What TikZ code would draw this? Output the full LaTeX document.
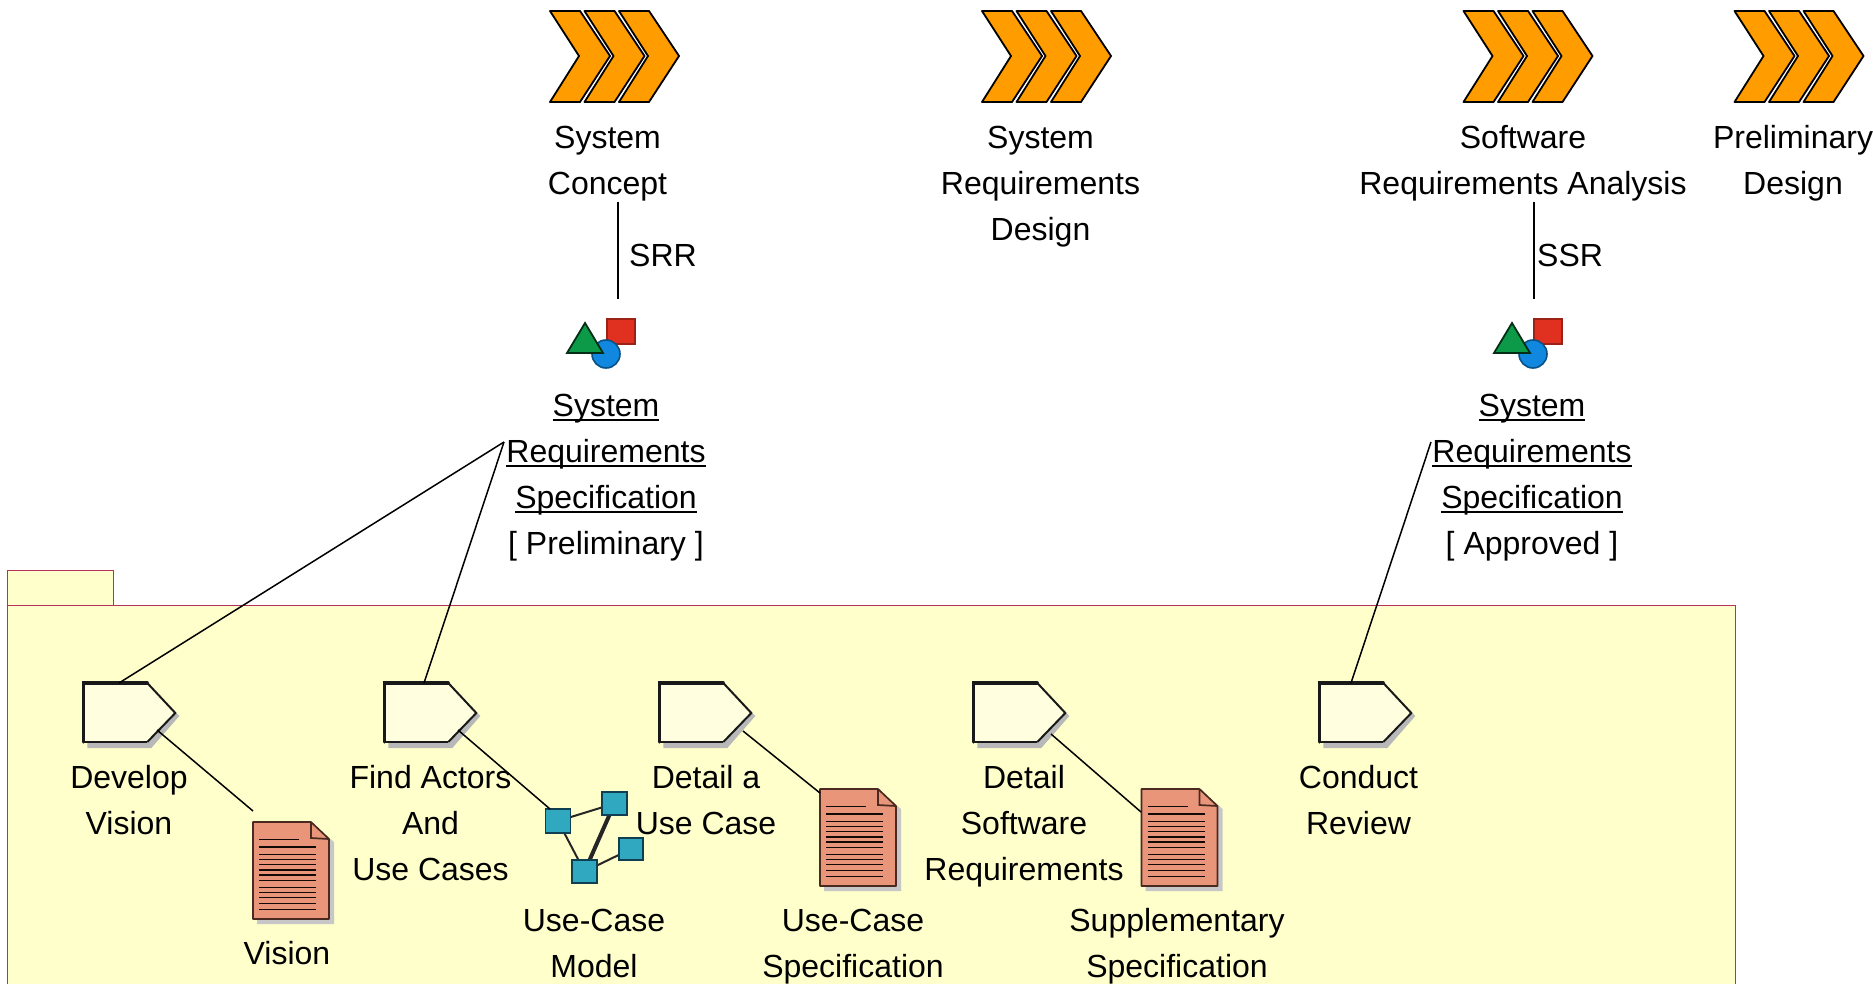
\documentclass[tikz,border=0pt]{standalone}
\usepackage{fontspec}
\setmainfont{Liberation Sans}
\definecolor{pkgfill}{HTML}{FFFFCC}
\definecolor{pkgline}{HTML}{B8305C}
\definecolor{chev}{HTML}{FF9C00}
\definecolor{docfill}{HTML}{E8957A}
\definecolor{docline}{HTML}{4A2A20}
\definecolor{ucfill}{HTML}{30A8C0}
\definecolor{ucline}{HTML}{0F3F50}
\definecolor{tri}{HTML}{0C9A48}
\definecolor{sq}{HTML}{E03020}
\definecolor{circ}{HTML}{1088E0}
\newcommand{\sn}{\rule{0pt}{24pt}}
\newsavebox{\ulbox}
\newcommand{\ul}[1]{\sbox{\ulbox}{#1}\rlap{\rule[-5pt]{\wd\ulbox}{2.2pt}}\usebox{\ulbox}}
\tikzset{
  lbl/.style={anchor=north,inner sep=0pt,align=center,font=\fontsize{32}{46}\selectfont,text=black},
  conn/.style={draw=black,line width=1.5pt},
  chevshape/.style={fill=chev,draw=black,line width=1.8pt,line join=round},
  pkg/.style={fill=pkgfill,draw=pkgline,line width=1pt},
  actshadow/.style={fill=black!28,draw=none},
  actbody/.style={fill=pkgfill!60!white,draw=none},
  docshadow/.style={fill=black!22,draw=none},
  docbody/.style={fill=docfill,draw=docline,line width=1.7pt},
  uc/.style={fill=ucfill,draw=ucline,line width=1.8pt},
  ucl/.style={draw=black!85,line width=2pt},
}
\newcommand{\chevs}[1]{\begin{scope}[shift={(#1,0)}]
  \foreach \o in {0,34.5,69}{
    \draw[chevshape] (\o,11) -- (\o+30,11) -- (\o+60,56) -- (\o+30,102) -- (\o,102) -- (\o+29,56) -- cycle;}
\end{scope}}
\newcommand{\artifact}[1]{\begin{scope}[shift={(#1,0)}]
  \draw[sq!70!black,fill=sq,line width=2pt] (607,319) rectangle (635,344);
  \draw[circ!60!black,fill=circ,line width=1.6pt] (606,354) circle (14);
  \draw[black!70!tri,fill=tri,line width=1.8pt,line join=miter] (585,323) -- (603,353) -- (567,353) -- cycle;
\end{scope}}
\newcommand{\activity}[1]{\begin{scope}[shift={(#1,0)}]
  \fill[actshadow] (4,687) -- (68,687) -- (96,716) -- (68,748) -- (4,748) -- cycle;
  \fill[actbody] (0,683) -- (64,683) -- (92,713) -- (64,742) -- (0,742) -- cycle;
  \draw[black!90,line width=2pt] (64,742) -- (92,713) -- (64,683);
  \draw[black!90,line width=2pt] (64,742) -- (0,742);
  \draw[black!90,line width=3.2pt,line cap=round] (0,742) -- (0,683) -- (64,683);
\end{scope}}
\newcommand{\docicon}[2]{\begin{scope}[shift={(#1,#2)}]
  \fill[docshadow] (4,4) -- (62,4) -- (81,20) -- (81,102) -- (4,102) -- cycle;
  \draw[docbody,line join=round] (0,0) -- (58,0) -- (76,17) -- (76,97) -- (0,97) -- cycle;
  \draw[docline,line width=1.7pt] (58,0) -- (58,16) -- (76,17);
  \draw[black!80!docline,line width=1pt] (6,17) -- (46,17);
  \foreach \yy in {32,37,42,58,65,70,75,81,87}{\draw[black!75!docline,line width=1pt] (6,\yy) -- (63,\yy);}
  \foreach \yy in {25,48,53}{\draw[black!75!docline,line width=1.8pt] (6,\yy) -- (63,\yy);}
\end{scope}}
\begin{document}
\begin{tikzpicture}[x=1pt,y=-1pt]
\useasboundingbox (0,0) rectangle (1873,983);
\clip (0,0) rectangle (1873,983);
% package
\draw[pkg] (7,605) rectangle (113,570);
\draw[pkg] (7,605) rectangle (1735,1000);
% chevrons
\chevs{550}\chevs{982}\chevs{1463.5}\chevs{1734.5}
% artifacts
\artifact{0}\artifact{927}
% activities
\activity{83.3}\activity{384.3}\activity{659.3}\activity{973.3}\activity{1319.3}
% documents
\docicon{253}{822}\docicon{820}{789}\docicon{1141.5}{789}
% labels
\node[lbl] (n1) at (607.5,124) {\sn System\\Concept};
\node[lbl] (n2) at (1040.5,124) {\sn System\\Requirements\\Design};
\node[lbl] (n3) at (1523,124) {\sn Software\\Requirements Analysis};
\node[lbl] (n4) at (1793,124) {\sn Preliminary\\Design};
\node[lbl] (srs1) at (606,392) {\sn\ul{System}\\\ul{Requirements}\\\ul{Specification}\\{[ Preliminary ]}};
\node[lbl] (srs2) at (1532,392) {\sn\ul{System}\\\ul{Requirements}\\\ul{Specification}\\{[ Approved ]}};
\node[lbl,anchor=north west] (srr) at (629,242) {\sn SRR};
\node[lbl,anchor=north west] (ssr) at (1537,242) {\sn SSR};
\node[lbl] (a1) at (129,764) {\sn Develop\\Vision};
\node[lbl] (a2) at (430.5,764) {\sn Find Actors\\And\\Use Cases};
\node[lbl] (a3) at (706,764) {\sn Detail a\\Use Case};
\node[lbl] (a4) at (1024,764) {\sn Detail\\Software\\Requirements};
\node[lbl] (a5) at (1358.5,764) {\sn Conduct\\Review};
\node[lbl] (d1) at (287,940) {\sn Vision};
\node[lbl] (d2) at (594,907.5) {\sn Use-Case\\Model};
\node[lbl] (d3) at (853,907.5) {\sn Use-Case\\Specification};
\node[lbl] (d4) at (1177,907.5) {\sn Supplementary\\Specification};
% use-case model
\coordinate (ucA) at (558,821);
\coordinate (ucB) at (614.5,803.5);
\coordinate (ucC) at (584.5,871.5);
\coordinate (ucD) at (631,849);
\draw[ucl] (ucA) -- (ucB);
\draw[ucl] (ucA) -- (ucC);
\draw[ucl] (ucC) -- (ucD);
\draw[draw=black!85,line width=4pt] (ucC) -- (ucB);
\node[uc,minimum width=25pt,minimum height=24pt,inner sep=0pt] at (ucA) {};
\node[uc,minimum width=25pt,minimum height=23pt,inner sep=0pt] at (ucB) {};
\node[uc,minimum width=25pt,minimum height=23pt,inner sep=0pt] at (ucC) {};
\node[uc,minimum width=24pt,minimum height=22pt,inner sep=0pt] at (ucD) {};
% connectors
\coordinate (srrT) at (618,202); \coordinate (srrB) at (618,299);
\coordinate (ssrT) at (1534,202); \coordinate (ssrB) at (1534,299);
\coordinate (spec1) at (504,442); \coordinate (spec2) at (1431,442);
\coordinate (act1T) at (119,683); \coordinate (act2T) at (424,683); \coordinate (act5T) at (1351,683);
\coordinate (act1O) at (157,730); \coordinate (doc1) at (253,811);
\coordinate (act2O) at (458,730); \coordinate (ucAc) at (550,809);
\coordinate (act3O) at (743,731); \coordinate (doc2) at (820,793);
\coordinate (act4O) at (1051,734); \coordinate (doc3) at (1141,812);
\draw[conn] (srrT) -- (srrB);
\draw[conn] (ssrT) -- (ssrB);
\draw[conn] (spec1) -- (act1T);
\draw[conn] (spec1) -- (act2T);
\draw[conn] (spec2) -- (act5T);
\draw[conn] (act1O) -- (doc1);
\draw[conn] (act2O) -- (ucAc);
\draw[conn] (act3O) -- (doc2);
\draw[conn] (act4O) -- (doc3);
\end{tikzpicture}
\end{document}
